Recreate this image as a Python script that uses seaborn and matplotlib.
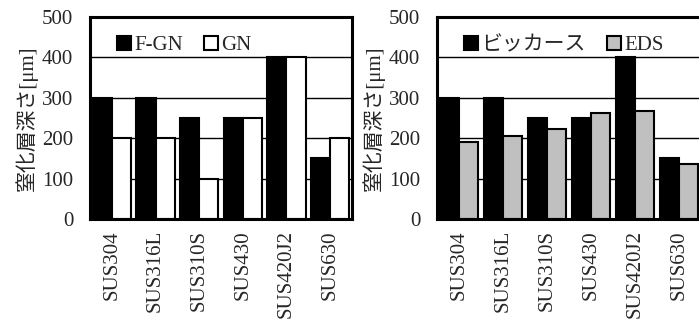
import pandas as pd
import numpy as np
import matplotlib
matplotlib.use("Agg")
import matplotlib.pyplot as plt
import seaborn as sns

# data
steels = ["SUS304", "SUS316L", "SUS310S", "SUS430", "SUS420J2", "SUS630"]
fgn = [300, 300, 250, 250, 400, 150]
gn = [200, 200, 100, 250, 400, 200]
vickers = [300, 300, 250, 250, 400, 150]
eds = [190, 205, 222, 262, 267, 135]
yticks = [0, 100, 200, 300, 400, 500]
ylabel = "窒化層深さ[μm]"

sns.set_style("white")
plt.rcParams['font.family'] = ['Liberation Serif', 'Noto Sans CJK JP']
plt.rcParams['font.size'] = 15

fig = plt.figure(figsize=(6.99, 3.2), dpi=100)
ax1 = fig.add_axes([90 / 699, 1 - 219 / 320, 262 / 699, 202 / 320])
ax2 = fig.add_axes([437 / 699, 1 - 219 / 320, 264 / 699, 202 / 320])


def make_df(a, b, name_a, name_b):
    return pd.DataFrame({
        "steel": steels * 2,
        "depth": a + b,
        "method": [name_a] * len(steels) + [name_b] * len(steels),
    })


panels = [
    (ax1, make_df(fgn, gn, "F-GN", "GN"), ["black", "white"]),
    (ax2, make_df(vickers, eds, "ビッカース", "EDS"), ["black", "#c0c0c0"]),
]

for ax, df, colors in panels:
    sns.barplot(data=df, x="steel", y="depth", hue="method", palette=colors,
                width=0.88, edgecolor="black", linewidth=1.5, ax=ax,
                saturation=1, errorbar=None)
    ax.set_ylim(0, 500)
    ax.set_yticks(yticks)
    ax.set_xlim(-0.5, 5.5)
    ax.yaxis.grid(True, color="black", linewidth=1)
    ax.set_axisbelow(True)
    for s in ax.spines.values():
        s.set_linewidth(2.2)
        s.set_color("black")
    ax.tick_params(axis="y", length=0, pad=12, labelsize=15)
    ax.tick_params(axis="x", length=0, pad=8, labelsize=15, rotation=90)
    ax.set_xlabel("")
    ax.set_ylabel(ylabel, fontsize=15, labelpad=3)
    ax.legend(loc="upper left", ncol=2, frameon=False, fontsize=15,
              handlelength=0.7, handleheight=0.7, handletextpad=0.15,
              columnspacing=1.0, borderaxespad=0.5, bbox_to_anchor=(0.03, 1.0))

fig.savefig("out.png", dpi=100)
